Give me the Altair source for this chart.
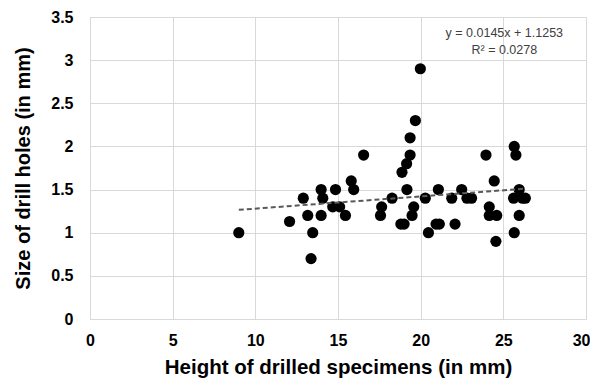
import altair as alt
import pandas as pd

heights = [9.0, 12.07, 12.9, 13.17, 13.98, 14.08, 13.98, 13.47, 13.37, 14.68, 14.85,
           15.1, 15.45, 15.8, 15.95, 16.55, 17.57, 17.64, 18.27, 18.8, 19.0,
           18.87, 19.15, 19.36, 19.17, 19.48, 19.58, 20.28, 20.47, 20.93, 21.13,
           21.07, 21.88, 22.08, 22.48, 22.8, 23.08, 23.95, 24.15, 24.15, 24.6,
           24.45, 24.55, 25.66, 25.62, 25.96, 25.96, 26.16, 26.33, 25.76, 25.66,
           19.98, 19.68, 19.36]
holes = [1.0, 1.13, 1.4, 1.2, 1.5, 1.4, 1.2, 1.0, 0.7, 1.3, 1.5,
         1.3, 1.2, 1.6, 1.5, 1.9, 1.2, 1.3, 1.4, 1.1, 1.1,
         1.7, 1.8, 1.9, 1.5, 1.2, 1.3, 1.4, 1.0, 1.1, 1.1,
         1.5, 1.4, 1.1, 1.5, 1.4, 1.4, 1.9, 1.3, 1.2, 1.2,
         1.6, 0.9, 1.0, 1.4, 1.5, 1.2, 1.4, 1.4, 1.9, 2.0,
         2.9, 2.3, 2.1]

eq_lines = ["y = 0.0145x + 1.1253", "R² = 0.0278"]
eq_x = [25.06, 25.06]
eq_y = [3.31, 3.12]

df = pd.DataFrame({"h": heights, "s": holes})
ann = pd.DataFrame({"t": eq_lines, "x": eq_x, "y": eq_y})

FONT = "Liberation Sans"

xs = alt.Scale(domain=[0, 30], nice=False, zero=True)
ys = alt.Scale(domain=[0, 3.5], nice=False)

xaxis = alt.Axis(values=[0, 5, 10, 15, 20, 25, 30], title="Height of drilled specimens (in mm)",
                 labelFont=FONT, labelFontSize=16, labelFontWeight="bold", labelColor="#000000",
                 labelPadding=13, titleFont=FONT, titleFontSize=20.5, titleFontWeight="bold",
                 titleColor="#000000", titlePadding=9, ticks=False, domainColor="#d9d9d9",
                 gridColor="#d9d9d9", labelFlush=False,
                 labelAlign={"expr": "datum.value == 30 ? 'right' : 'center'"},
                 labelOffset={"expr": "datum.value == 30 ? 4 : 0"})
yaxis = alt.Axis(values=[0, 0.5, 1, 1.5, 2, 2.5, 3, 3.5], title="Size of drill holes (in mm)",
                 labelFont=FONT, labelFontSize=16, labelFontWeight="bold", labelColor="#000000",
                 labelPadding=17, titleFont=FONT, titleFontSize=20, titleFontWeight="bold",
                 titleColor="#000000", titlePadding=17, ticks=False, domainColor="#d9d9d9",
                 gridColor="#d9d9d9", labelFlush=False,
                 labelExpr="datum.value")

base = alt.Chart(df)

points = base.mark_circle(size=125, color="#000000", opacity=1).encode(
    x=alt.X("h:Q", scale=xs, axis=xaxis),
    y=alt.Y("s:Q", scale=ys, axis=yaxis),
)

trend = base.transform_regression("h", "s").mark_line(
    color="#595959", strokeWidth=2, strokeDash=[5, 3]
).encode(x=alt.X("h:Q", scale=xs), y=alt.Y("s:Q", scale=ys))

text = alt.Chart(ann).mark_text(font=FONT, fontSize=12.5, color="#404040", align="center",
                                baseline="middle").encode(
    x=alt.X("x:Q", scale=xs), y=alt.Y("y:Q", scale=ys), text="t:N"
)

chart = alt.layer(points, trend, text).properties(
    width=496, height=302,
    autosize=alt.AutoSizeParams(type="none"),
    padding={"left": 82, "top": 9, "right": 4, "bottom": 59},
).configure_view(stroke=None).configure(background="#ffffff")

chart.save("out.html", embed_options={"renderer": "svg", "actions": False})
